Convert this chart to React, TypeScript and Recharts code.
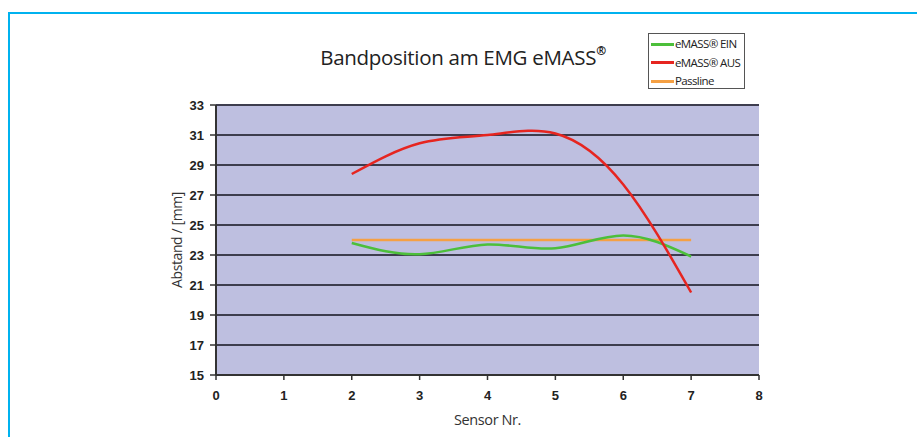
import React from 'react';
import { LineChart, Line, XAxis, YAxis, CartesianGrid } from 'recharts';

const sensors = [2, 3, 4, 5, 6, 7];
const einValues = [23.8, 23.05, 23.7, 23.45, 24.3, 22.9];
const ausValues = [28.4, 30.45, 31.0, 31.1, 27.7, 20.5];
const passValues = [24, 24, 24, 24, 24, 24];
const xTicks = [0, 1, 2, 3, 4, 5, 6, 7, 8];
const yTicks = [15, 17, 19, 21, 23, 25, 27, 29, 31, 33];

const seriesNames = ['eMASS® EIN', 'eMASS® AUS', 'Passline'];
const seriesColors = ['#4cbf3a', '#e62520', '#f5a043'];

const data = sensors.map((x, i) => ({
  x,
  ein: einValues[i],
  aus: ausValues[i],
  pass: passValues[i],
}));

const textFont = '"Open Sans", "Noto Sans", sans-serif';
const tickFont = '"Liberation Sans", Arial, sans-serif';

const LegendBox = () => (
  <div
    style={{
      position: 'absolute',
      left: 648,
      top: 33,
      border: '1px solid #555',
      background: '#fff',
      padding: '1px 2px 1px 2px',
      width: 97,
      height: 56,
      boxSizing: 'border-box',
      fontFamily: textFont,
      fontSize: 11.5,
      letterSpacing: -0.6,
      color: '#222',
      lineHeight: '18.5px',
    }}
  >
    {seriesNames.map((n, i) => (
      <div key={n} style={{ display: 'flex', alignItems: 'center', whiteSpace: 'nowrap' }}>
        <span style={{ display: 'inline-block', width: 23, height: 3, background: seriesColors[i], marginRight: 1 }} />
        <span>{n}</span>
      </div>
    ))}
  </div>
);

export default function App() {
  return (
    <div style={{ position: 'relative', width: 917, height: 437, background: '#fff', overflow: 'hidden' }}>
      <style>{'body{margin:0}'}</style>
      <div
        style={{
          position: 'absolute',
          left: 8,
          top: 12,
          width: 920,
          height: 440,
          borderTop: '2.5px solid #00b2ef',
          borderLeft: '2.5px solid #00b2ef',
        }}
      />
      <LineChart
        width={917}
        height={437}
        data={data}
        margin={{ top: 105, right: 158, bottom: 5, left: 0 }}
        style={{ position: 'absolute', left: 0, top: 0 }}
      >
        <CartesianGrid vertical={false} horizontal={true} fill="#bebfe0" stroke="#3d3d4e" strokeWidth={2} strokeOpacity={1} />
        <XAxis
          type="number"
          dataKey="x"
          domain={[0, 8]}
          ticks={xTicks}
          interval={0}
          height={57}
          tickSize={5}
          tickMargin={11}
          axisLine={{ stroke: '#333', strokeWidth: 2 }}
          tickLine={{ stroke: '#333', strokeWidth: 1.5 }}
          tick={{ fontFamily: tickFont, fontSize: 13, fontWeight: 'bold', fill: '#222' }}
          label={{
            value: 'Sensor Nr.',
            position: 'insideBottom',
            offset: 7,
            style: { fontFamily: textFont, fontSize: 14.5, fill: '#333', letterSpacing: -0.4 },
          }}
        />
        <YAxis
          type="number"
          domain={[15, 33]}
          ticks={yTicks}
          interval={0}
          width={216}
          tickSize={6}
          tickMargin={6}
          axisLine={{ stroke: '#333', strokeWidth: 2 }}
          tickLine={{ stroke: '#333', strokeWidth: 1.5 }}
          tick={{ fontFamily: tickFont, fontSize: 13, fontWeight: 'bold', fill: '#222' }}
          label={{
            value: 'Abstand / [mm]',
            angle: -90,
            position: 'insideLeft',
            offset: 177,
            style: { textAnchor: 'middle', fontFamily: textFont, fontSize: 14, fill: '#333', letterSpacing: -0.4 },
          }}
        />
        <Line type="natural" dataKey="pass" name={seriesNames[2]} stroke={seriesColors[2]} strokeWidth={2.5} dot={false} isAnimationActive={false} />
        <Line type="natural" dataKey="ein" name={seriesNames[0]} stroke={seriesColors[0]} strokeWidth={2.5} dot={false} isAnimationActive={false} />
        <Line type="natural" dataKey="aus" name={seriesNames[1]} stroke={seriesColors[1]} strokeWidth={2.5} dot={false} isAnimationActive={false} />
      </LineChart>
      <div
        style={{
          position: 'absolute',
          left: 308,
          top: 43,
          width: 310,
          textAlign: 'center',
          fontFamily: textFont,
          fontSize: 20.5,
          fontWeight: 500,
          color: '#222',
          letterSpacing: -0.3,
          whiteSpace: 'nowrap',
        }}
      >
        Bandposition am EMG eMASS<sup style={{ fontSize: 12, fontWeight: 700, verticalAlign: 'top', position: 'relative', top: -1 }}>®</sup>
      </div>
      <LegendBox />
    </div>
  );
}
